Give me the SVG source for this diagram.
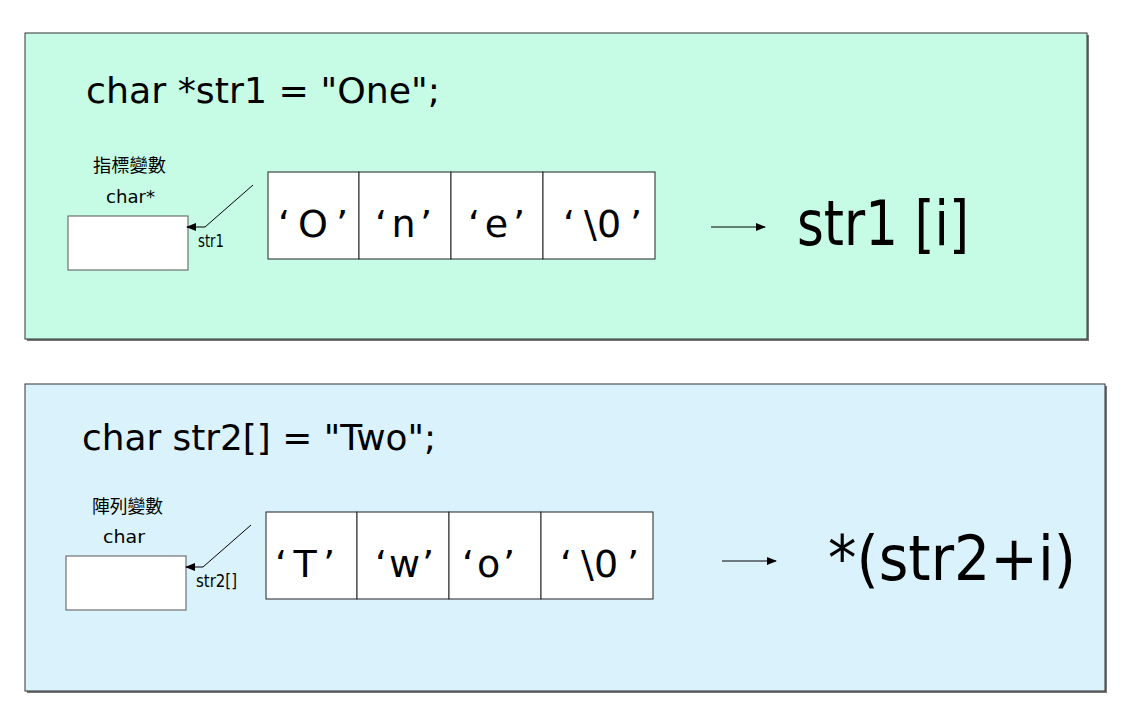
<svg xmlns="http://www.w3.org/2000/svg" width="1125" height="708" viewBox="0 0 1125 708">
<defs>
<marker id="ah" markerWidth="10" markerHeight="8" refX="9" refY="4" orient="auto" markerUnits="userSpaceOnUse">
<path d="M0,0 L10,4 L0,8 Z" fill="#000"/>
</marker>
<style>
.panel{stroke:#333;stroke-width:1}
.shadow{fill:#777}
.cell{fill:#fff;stroke:#222;stroke-width:1}
.var{fill:#fff;stroke:#555;stroke-width:1}
text{font-family:"DejaVu Sans","Liberation Sans","Noto Sans CJK TC",sans-serif;fill:#000}
.code{font-size:36px}
.ch{font-size:38px}
.big{font-size:62px}
.lbl{font-size:17px}
.cjk{font-family:"Noto Sans CJK TC","Noto Sans CJK SC",sans-serif;font-size:18px}
.conn{fill:none;stroke:#000;stroke-width:1}
</style>
</defs>
<rect width="1125" height="708" fill="#fff"/>
<g id="panel1">
<rect class="shadow" x="27" y="35" width="1062" height="306"/>
<rect class="panel" x="25" y="33" width="1062" height="306" fill="#c6fce6"/>
<text class="code" x="86" y="103" textLength="354" lengthAdjust="spacingAndGlyphs">char *str1 = "One";</text>
</g>
<g id="var1">
<text class="cjk" x="93" y="172" textLength="73" lengthAdjust="spacingAndGlyphs">指標變數</text>
<text class="lbl" x="106" y="203" textLength="49" lengthAdjust="spacingAndGlyphs">char*</text>
<rect class="var" x="68" y="216" width="120" height="54"/>
<text class="lbl" x="198" y="247" textLength="26" lengthAdjust="spacingAndGlyphs">str1</text>
</g>
<g id="array1">
<rect class="cell" x="268" y="172" width="91" height="87"/>
<rect class="cell" x="359" y="172" width="92" height="87"/>
<rect class="cell" x="451" y="172" width="92" height="87"/>
<rect class="cell" x="543" y="172" width="112" height="87"/>
<text class="ch" x="278" y="237" textLength="70" lengthAdjust="spacing">‘O’</text>
<text class="ch" x="375" y="237" textLength="57" lengthAdjust="spacing">‘n’</text>
<text class="ch" x="468" y="237" textLength="57" lengthAdjust="spacing">‘e’</text>
<text class="ch" x="563" y="237">‘<tspan dx="9">\0</tspan><tspan dx="9">’</tspan></text>
</g>
<g id="expr1">
<text class="big" x="797" y="245" textLength="172" lengthAdjust="spacingAndGlyphs">str1 [i]</text>
</g>
<g id="panel2">
<rect class="shadow" x="27" y="386" width="1080" height="307"/>
<rect class="panel" x="25" y="384" width="1080" height="307" fill="#daf2fc"/>
<text class="code" x="82" y="450" textLength="354" lengthAdjust="spacingAndGlyphs">char str2[] = "Two";</text>
</g>
<g id="var2">
<text class="cjk" x="92" y="513" textLength="71" lengthAdjust="spacingAndGlyphs">陣列變數</text>
<text class="lbl" x="103" y="543" textLength="42" lengthAdjust="spacingAndGlyphs">char</text>
<rect class="var" x="66" y="556" width="120" height="54"/>
<text class="lbl" x="196" y="587" textLength="41" lengthAdjust="spacingAndGlyphs">str2[]</text>
</g>
<g id="array2">
<rect class="cell" x="266" y="512" width="91" height="87"/>
<rect class="cell" x="357" y="512" width="92" height="87"/>
<rect class="cell" x="449" y="512" width="92" height="87"/>
<rect class="cell" x="541" y="512" width="112" height="87"/>
<text class="ch" x="275" y="577" textLength="60" lengthAdjust="spacing">‘T’</text>
<text class="ch" x="375" y="577" textLength="59" lengthAdjust="spacing">‘w’</text>
<text class="ch" x="462" y="577" textLength="53" lengthAdjust="spacing">‘o’</text>
<text class="ch" x="560" y="577">‘<tspan dx="9">\0</tspan><tspan dx="9">’</tspan></text>
</g>
<g id="expr2">
<text class="big" x="828" y="580" textLength="248" lengthAdjust="spacingAndGlyphs">*(str2+i)</text>
</g>
<g id="connectors">
<polyline class="conn" points="253,185 205,227 187,227" marker-end="url(#ah)"/>
<polyline class="conn" points="251,525 203,567 186,567" marker-end="url(#ah)"/>
<line class="conn" x1="711" y1="227" x2="765" y2="227" marker-end="url(#ah)"/>
<line class="conn" x1="722" y1="561" x2="776" y2="561" marker-end="url(#ah)"/>
</g>
</svg>
